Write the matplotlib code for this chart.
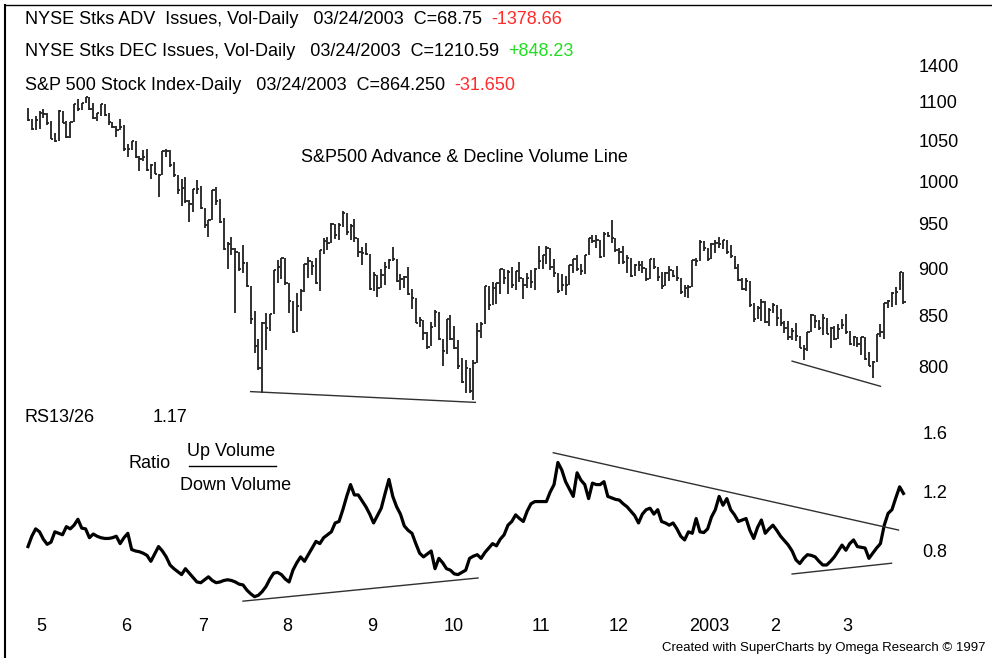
import numpy as np
import matplotlib.pyplot as plt
from matplotlib.lines import Line2D
from matplotlib.ticker import NullLocator

plt.rcParams['font.family'] = ['Liberation Sans', 'DejaVu Sans']

W, H = 992, 658

# S&P 500 daily bars, 26 Apr 2002 .. 24 Mar 2003 (one line per month)
spx_high = [
    1092, 1078, 1082,
    1088, 1091, 1085, 1075, 1059, 1089, 1088, 1075, 1074, 1097, 1104, 1099, 1107, 1106, 1099, 1086, 1097, 1097, 1085, 1074, 1069, 1077,
    1070, 1046, 1050, 1050, 1031, 1038, 1040, 1021, 1023, 1009, 1037, 1040, 1038, 1023, 1007, 1002, 1005, 977, 990, 1001,
    994, 968, 954, 989, 993, 979, 956, 929, 935, 922, 918, 926, 907, 881, 855, 827, 844, 853, 852, 898, 909, 911,
    911, 884, 865, 874, 878, 905, 913, 908, 911, 920, 934, 935, 951, 950, 951, 965, 962, 950, 955, 934, 924, 928,
    916, 896, 893, 899, 907, 910, 924, 910, 894, 892, 902, 878, 869, 849, 846, 834, 844, 856, 854, 827,
    847, 851, 840, 826, 808, 806, 798, 806, 843, 844, 881, 881, 885, 884, 900, 899, 898, 902, 897, 907, 890, 895, 898,
    901, 925, 915, 925, 923, 910, 895, 894, 892, 904, 910, 915, 905, 915, 934, 937, 937, 932, 940, 941,
    954, 934, 922, 925, 915, 912, 905, 908, 908, 901, 910, 911, 902, 896, 896, 903, 898, 903, 890, 882, 882,
    909, 911, 931, 930, 922, 928, 932, 935, 931, 932, 926, 914, 905, 890, 890, 887, 863, 860, 868, 865, 858,
    863, 861, 857, 845, 845, 838, 843, 830, 821, 834, 852, 851, 846, 852, 848, 839, 840, 842, 847,
    852, 835, 830, 829, 829, 829, 814, 805, 832, 842, 863, 867, 875, 880, 896, 896,
]
spx_low = [
    1075, 1063, 1063,
    1065, 1079, 1070, 1052, 1048, 1049, 1072, 1053, 1053, 1074, 1088, 1089, 1098, 1090, 1077, 1075, 1081, 1082, 1070, 1066, 1055, 1064,
    1037, 1030, 1038, 1028, 1012, 1025, 1012, 1002, 1008, 981, 1007, 1030, 1017, 1005, 985, 970, 974, 952, 963, 985,
    967, 945, 935, 954, 972, 951, 920, 900, 915, 853, 897, 895, 880, 842, 813, 796, 775, 816, 835, 852, 884, 889,
    882, 853, 833, 834, 855, 875, 890, 893, 883, 876, 916, 920, 928, 933, 932, 946, 937, 931, 929, 913, 904, 915,
    877, 876, 870, 879, 882, 900, 908, 886, 877, 879, 872, 857, 843, 839, 826, 817, 820, 839, 826, 800,
    812, 826, 817, 797, 784, 775, 775, 768, 803, 828, 842, 856, 861, 862, 873, 883, 873, 879, 877, 886, 868, 879, 879,
    877, 900, 899, 905, 898, 891, 874, 876, 872, 882, 895, 897, 893, 894, 915, 928, 923, 912, 913, 935,
    928, 918, 905, 905, 895, 891, 892, 897, 895, 887, 889, 900, 887, 878, 881, 887, 891, 887, 873, 870, 869,
    880, 903, 908, 919, 908, 910, 917, 922, 921, 916, 911, 899, 887, 877, 876, 859, 844, 847, 845, 843, 840,
    853, 840, 840, 833, 826, 826, 825, 818, 806, 815, 834, 838, 836, 831, 832, 818, 826, 827, 837,
    832, 821, 820, 819, 811, 806, 800, 789, 804, 829, 827, 858, 859, 861, 877, 862,
]
spx_close = [
    1076, 1065, 1076,
    1086, 1084, 1073, 1052, 1049, 1088, 1073, 1054, 1074, 1097, 1091, 1098, 1106, 1091, 1079, 1086, 1097, 1083, 1074, 1067, 1064, 1067,
    1040, 1040, 1049, 1029, 1027, 1030, 1013, 1020, 1009, 1007, 1037, 1037, 1020, 1007, 989, 992, 976, 973, 990, 990,
    968, 948, 954, 989, 976, 952, 921, 927, 921, 918, 900, 906, 881, 847, 820, 798, 843, 838, 852, 898, 902, 911,
    884, 865, 834, 860, 876, 905, 908, 903, 884, 920, 930, 928, 950, 937, 949, 962, 940, 947, 934, 918, 917, 916,
    878, 893, 879, 893, 902, 909, 910, 887, 889, 891, 873, 869, 843, 846, 833, 819, 839, 854, 827, 815,
    847, 827, 818, 800, 785, 798, 777, 803, 835, 842, 881, 861, 879, 884, 899, 890, 896, 882, 897, 890, 882, 890, 886,
    900, 908, 915, 923, 902, 895, 876, 882, 882, 904, 910, 900, 897, 915, 934, 930, 932, 913, 938, 936,
    934, 920, 918, 907, 912, 892, 904, 904, 901, 889, 910, 902, 891, 881, 895, 898, 892, 890, 875, 879, 880,
    909, 908, 929, 922, 910, 927, 928, 927, 931, 918, 914, 901, 888, 878, 887, 861, 847, 858, 864, 844, 856,
    861, 848, 843, 838, 829, 835, 830, 818, 817, 834, 851, 845, 838, 848, 832, 838, 827, 837, 841,
    834, 822, 829, 822, 829, 807, 800, 804, 832, 834, 863, 866, 874, 875, 896, 864,
]

# RS13/26 up volume / down volume ratio, same days
ratio = [
    0.83, 0.90, 0.95, 0.93, 0.88, 0.845, 0.86, 0.93, 0.92, 0.91,
    0.965, 0.95, 0.975, 1.015, 0.955, 0.95, 0.89, 0.915, 0.90, 0.89,
    0.885, 0.885, 0.89, 0.90, 0.85, 0.89, 0.92, 0.81, 0.80, 0.795,
    0.785, 0.77, 0.73, 0.78, 0.83, 0.80, 0.76, 0.705, 0.68, 0.66,
    0.64, 0.68, 0.65, 0.62, 0.59, 0.585, 0.605, 0.625, 0.60, 0.585,
    0.59, 0.60, 0.605, 0.60, 0.59, 0.575, 0.57, 0.535, 0.51, 0.49,
    0.50, 0.525, 0.56, 0.61, 0.65, 0.655, 0.64, 0.61, 0.59, 0.67,
    0.72, 0.76, 0.73, 0.775, 0.82, 0.865, 0.85, 0.89, 0.91, 0.93,
    0.99, 1.00, 1.08, 1.17, 1.25, 1.18, 1.18, 1.14, 1.10, 1.05,
    0.99, 1.04, 1.09, 1.19, 1.285, 1.17, 1.10, 1.05, 0.97, 0.94,
    0.92, 0.85, 0.785, 0.76, 0.78, 0.80, 0.68, 0.75, 0.72, 0.68,
    0.67, 0.645, 0.64, 0.655, 0.67, 0.75, 0.765, 0.775, 0.75, 0.79,
    0.82, 0.85, 0.835, 0.88, 0.91, 0.975, 1.00, 1.045, 1.02, 1.00,
    1.07, 1.12, 1.135, 1.135, 1.135, 1.135, 1.20, 1.25, 1.40, 1.35,
    1.27, 1.22, 1.17, 1.33, 1.28, 1.25, 1.155, 1.26, 1.25, 1.25,
    1.27, 1.17, 1.16, 1.15, 1.145, 1.12, 1.10, 1.07, 1.04, 0.99,
    1.05, 1.08, 1.09, 1.05, 1.08, 1.00, 0.99, 0.975, 0.99, 0.95,
    0.90, 0.875, 0.93, 0.92, 1.02, 0.93, 0.925, 0.95, 1.03, 1.08,
    1.17, 1.11, 1.155, 1.08, 1.045, 1.00, 1.01, 1.02, 0.94, 0.885,
    0.96, 1.01, 0.92, 0.95, 0.975, 0.94, 0.90, 0.87, 0.84, 0.80,
    0.74, 0.715, 0.75, 0.775, 0.77, 0.76, 0.73, 0.705, 0.705, 0.73,
    0.76, 0.80, 0.84, 0.805, 0.85, 0.875, 0.83, 0.825, 0.82, 0.75,
    0.785, 0.82, 0.85, 0.975, 1.055, 1.08, 1.16, 1.235, 1.19,
]

# first trading day of each month (bar index) and its label
month_start = [3, 25, 45, 67, 89, 109, 132, 152, 173, 194, 213]
month_labels = ['5', '6', '7', '8', '9', '10', '11', '12', '2003', '2', '3']

price_ticks = [800, 850, 900, 950, 1000, 1050, 1100, 1150]
price_tick_labels = ['800', '850', '900', '950', '1000', '1050', '1100', '1400']
ratio_ticks = [0.8, 1.2, 1.6]
ratio_tick_labels = ['0.8', '1.2', '1.6']

# hand-drawn trendlines: (day, value) end points
price_trends = [((58, 776), (116.5, 766)), ((199, 805), (222, 781))]
ratio_trends = [((56, 0.46), (117.2, 0.617)),
                ((136.8, 1.466), (226.7, 0.942)),
                ((199, 0.644), (224.9, 0.717))]

# header lines: (black part, coloured change, colour)
header_rows = [
    ('NYSE Stks ADV  Issues, Vol-Daily   03/24/2003  C=68.75', '-1378.66', '#ff2a2a'),
    ('NYSE Stks DEC Issues, Vol-Daily   03/24/2003  C=1210.59', '+848.23', '#22dd22'),
    ('S&P 500 Stock Index-Daily   03/24/2003  C=864.250', '-31.650', '#ff2a2a'),
]

days = np.arange(len(spx_close))


def fx(px):
    return px / W


def fy(py):
    return 1 - py / H


fs = 13

fig = plt.figure(figsize=(W / 100, H / 100), dpi=100)
fig.patch.set_facecolor('white')

ax1 = fig.add_axes([fx(20), fy(410), fx(890), 350 / H])
ax2 = fig.add_axes([fx(20), fy(610), fx(890), 185 / H])

for ax in (ax1, ax2):
    for s in ax.spines.values():
        s.set_visible(False)
    ax.set_xlim(-2.08, 229.7)
    ax.yaxis.tick_right()
    ax.tick_params(axis='y', length=0, labelsize=fs)
    ax.tick_params(axis='x', length=0, labelsize=fs)

# ---- price bars
ax1.set_yscale('log')
ax1.set_ylim(759, 1157)
ax1.vlines(days, spx_low, spx_high, color='#202020', lw=1.3)
ax1.hlines(spx_close, days, days + 0.6, color='#202020', lw=1.3)
for (x0, y0), (x1, y1) in price_trends:
    ax1.plot([x0, x1], [y0, y1], color='#303030', lw=1.0)
ax1.yaxis.set_minor_locator(NullLocator())
ax1.set_yticks(price_ticks)
ax1.set_yticklabels(price_tick_labels)
ax1.tick_params(axis='y', pad=6)
ax1.set_xticks([])

# ---- ratio line
ax2.set_ylim(0.40, 1.654)
ax2.plot(days, ratio, color='black', lw=2.3, solid_joinstyle='round')
for (x0, y0), (x1, y1) in ratio_trends:
    ax2.plot([x0, x1], [y0, y1], color='#303030', lw=1.0)
ax2.set_yticks(ratio_ticks)
ax2.set_yticklabels(ratio_tick_labels)
ax2.tick_params(axis='y', pad=9)
ax2.set_xticks(np.array(month_start) - 0.8)
ax2.set_xticklabels(month_labels, ha='left')
ax2.tick_params(axis='x', pad=6)

# ---- header texts (coloured part follows the black part)
renderer = fig.canvas.get_renderer()
for (black, change, col), ypx in zip(header_rows, [19, 52, 86]):
    t = fig.text(fx(25), fy(ypx), black, fontsize=fs, va='center')
    x_end = t.get_window_extent(renderer).x1
    fig.text(fx(x_end + 9), fy(ypx), change, fontsize=fs, va='center', color=col)

fig.text(fx(464), fy(158), 'S&P500 Advance & Decline Volume Line', fontsize=fs,
         va='center', ha='center')

fig.text(fx(25), fy(418), 'RS13/26', fontsize=fs, va='center')
fig.text(fx(153), fy(418), '1.17', fontsize=fs, va='center')
fig.text(fx(128), fy(463), 'Ratio', fontsize=fs, va='center')
fig.text(fx(231), fy(451), 'Up Volume', fontsize=fs, va='center', ha='center')
fig.add_artist(Line2D([fx(189), fx(276)], [fy(466), fy(466)], color='black', lw=1.0))
fig.text(fx(236), fy(486), 'Down Volume', fontsize=fs, va='center', ha='center')

fig.text(fx(985), fy(648), 'Created with SuperCharts by Omega Research \u00a9 1997',
         fontsize=9.5, va='center', ha='right')

# outer frame (left and top edges)
fig.add_artist(Line2D([fx(5), fx(5)], [fy(5), fy(658)], color='black', lw=1.5))
fig.add_artist(Line2D([fx(5), fx(992)], [fy(5), fy(5)], color='black', lw=1.0))

fig.savefig('out.png', dpi=100)
